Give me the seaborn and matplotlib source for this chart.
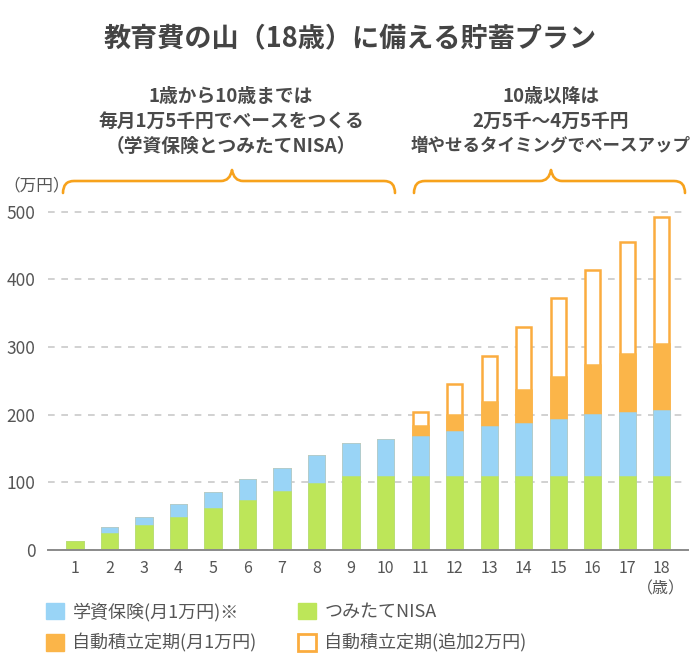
#!/usr/bin/env python3
"""教育費の山(18歳)に備える貯蓄プラン - stacked bars"""

import pandas as pd

import matplotlib
matplotlib.use('agg')
import matplotlib.pyplot as plt
from matplotlib.patches import Patch, PathPatch
from matplotlib.path import Path

import seaborn as sns

# age (years)
ages = [str(n) for n in range(1, 19)]
# つみたてNISA (万円, cumulative)
nisa = [12, 24, 36, 48, 60, 73, 85, 98, 108, 108, 108, 108, 108, 108, 108, 108, 108, 108]
# 学資保険 (月1万円)
gakushi = [0, 8, 12, 18, 24, 30, 35, 41, 48, 54, 59, 67, 73, 78, 84, 91, 95, 97]
# 自動積立定期 (月1万円)
teiki = [0, 0, 0, 0, 0, 0, 0, 0, 0, 0, 16, 25, 38, 50, 63, 74, 87, 100]
# 自動積立定期 (追加2万円)
tsuika = [0, 0, 0, 0, 0, 0, 0, 0, 0, 0, 21, 45, 68, 94, 117, 141, 165, 187]

legend_labels = ['学資保険(月1万円)※', '自動積立定期(月1万円)',
                 'つみたてNISA', '自動積立定期(追加2万円)']

C_BLUE = '#99d4f6'
C_GREEN = '#bde659'
C_ORANGE = '#fbb549'
C_LINE = '#fbac3f'
C_BRACE = '#f7a21c'
C_TEXT = '#444444'
C_TICK = '#555555'

W, H = 700, 670


def fx(px):
    return px / W


def fy(py):
    return 1 - py / H


def _brace(fig, x0, xt, x1, ybot=193, yh=181, ytip=170, r=11):
    """Curly brace opening downward, in pixel coords"""
    pts = [(x0, ybot), (x0, yh), (x0 + r, yh),
           (xt - r, yh), (xt - 2, yh), (xt, ytip),
           (xt + 2, yh), (xt + r, yh),
           (x1 - r, yh), (x1, yh), (x1, ybot)]
    codes = [Path.MOVETO, Path.CURVE3, Path.CURVE3,
             Path.LINETO, Path.CURVE3, Path.CURVE3,
             Path.CURVE3, Path.CURVE3,
             Path.LINETO, Path.CURVE3, Path.CURVE3]
    verts = [(fx(x), fy(y)) for x, y in pts]
    patch = PathPatch(Path(verts, codes), transform=fig.transFigure,
                      fill=False, edgecolor=C_BRACE, lw=1.9,
                      capstyle='round', joinstyle='round')
    fig.patches.append(patch)


def main():
    sns.set_style('white')
    plt.rcParams['font.family'] = ['Noto Sans CJK JP', 'DejaVu Sans']

    dfrm = pd.DataFrame({'age': ages, 'nisa': nisa, 'gakushi': gakushi,
                         'teiki': teiki, 'tsuika': tsuika})
    dfrm['top_blue'] = dfrm['nisa'] + dfrm['gakushi']
    dfrm['top_orange'] = dfrm['top_blue'] + dfrm['teiki']
    dfrm['total'] = dfrm['top_orange'] + dfrm['tsuika']

    fig = plt.figure(figsize=(7, 6.7), dpi=100)
    ax = fig.add_axes([fx(48), fy(550), fx(640), 352 / H])

    kws = dict(x='age', order=ages, width=0.44, saturation=1, ax=ax, zorder=3)
    sns.barplot(data=dfrm, y='total', color='white', edgecolor=C_LINE, linewidth=1.8, **kws)
    sns.barplot(data=dfrm, y='top_orange', color=C_ORANGE, edgecolor=C_ORANGE, linewidth=1.8, **kws)
    sns.barplot(data=dfrm, y='top_blue', color=C_BLUE, edgecolor=C_BLUE, linewidth=1.8, **kws)
    sns.barplot(data=dfrm, y='nisa', color=C_GREEN, edgecolor=C_GREEN, linewidth=1.8, **kws)

    ax.set_xlim(-0.78, 17.76)
    ax.set_ylim(0, 520)
    ax.set_yticks([0, 100, 200, 300, 400, 500])
    ax.set_xlabel('')
    ax.set_ylabel('')
    ax.yaxis.grid(True, linestyle=(0, (4, 4)), color='#c9c9c9', lw=1.2, zorder=0)
    ax.set_axisbelow(True)
    for side in ('top', 'right', 'left'):
        ax.spines[side].set_visible(False)
    ax.spines['bottom'].set_color('#8a8a8a')
    ax.spines['bottom'].set_linewidth(1.4)
    ax.spines['bottom'].set_zorder(4)
    ax.tick_params(axis='y', length=0, pad=9, labelsize=12.5, labelcolor=C_TICK)
    ax.tick_params(axis='x', length=0, pad=7, labelsize=11.5, labelcolor=C_TICK)

    # Title and notes
    fig.text(fx(350), fy(38), '教育費の山（18歳）に備える貯蓄プラン', ha='center', va='center',
             fontsize=19.5, fontweight='bold', color=C_TEXT)
    left_note = ['1歳から10歳までは', '毎月1万5千円でベースをつくる', '（学資保険とつみたてNISA）']
    right_note = ['10歳以降は', '2万5千～4万5千円', '増やせるタイミングでベースアップ']
    note_sizes = [13.5, 13.5, 12.6]
    for i, (ltxt, rtxt) in enumerate(zip(left_note, right_note)):
        ypos = fy(97 + 24.5 * i)
        fig.text(fx(231), ypos, ltxt, ha='center', va='center', fontsize=13.5,
                 fontweight='bold', color='#4a4a4a')
        fig.text(fx(551), ypos, rtxt, ha='center', va='center', fontsize=note_sizes[i],
                 fontweight='bold', color='#4a4a4a')

    _brace(fig, 63, 232, 395)
    _brace(fig, 414, 551, 685)

    fig.text(fx(3), fy(186), '（万円）', ha='left', va='center', fontsize=12, color=C_TICK)
    fig.text(fx(661), fy(589), '（歳）', ha='center', va='center', fontsize=11.5, color=C_TICK)

    # Legend
    handles = [Patch(facecolor=C_BLUE, edgecolor=C_BLUE),
               Patch(facecolor=C_ORANGE, edgecolor=C_ORANGE),
               Patch(facecolor=C_GREEN, edgecolor=C_GREEN),
               Patch(facecolor='white', edgecolor=C_LINE, lw=2)]
    leg = fig.legend(handles, legend_labels, ncol=2, loc='upper left',
                     bbox_to_anchor=(fx(30), fy(586)), frameon=False, fontsize=13,
                     handlelength=1.0, handleheight=1.0, handletextpad=0.45,
                     labelspacing=0.7, columnspacing=2.3)
    for txt in leg.get_texts():
        txt.set_color(C_TICK)

    fig.savefig('out.png', dpi=100, facecolor='white')


if __name__ == '__main__':
    main()
